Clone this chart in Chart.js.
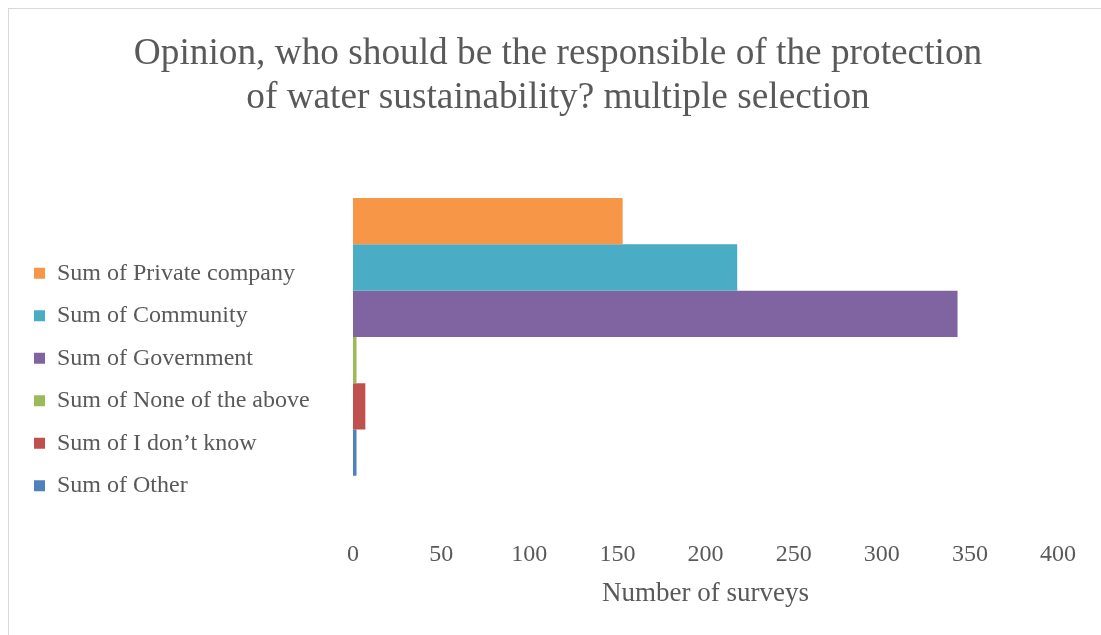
<!DOCTYPE html>
<html>
<head>
<meta charset="utf-8">
<script src="https://cdn.jsdelivr.net/npm/chart.js@4/dist/chart.umd.min.js"></script>
<style>
  html, body { margin: 0; padding: 0; background: #ffffff; overflow: hidden; }
  #frame {
    position: absolute; left: 8px; top: 8px;
    width: 1100px; height: 640px;
    border-left: 1px solid #d9d9d9; border-top: 1px solid #d9d9d9;
    background: #ffffff;
  }
  #chart { display: block; }
</style>
</head>
<body>
<div id="frame"><canvas id="chart" width="1100" height="627"></canvas></div>
<script>
// Survey answers: who should be responsible for protecting water sustainability
const categories = ['Total'];
const seriesNames = [
  'Sum of Private company',
  'Sum of Community',
  'Sum of Government',
  'Sum of None of the above',
  'Sum of I don\u2019t know',
  'Sum of Other'
];
const privateCompany = [153];
const community = [218];
const government = [343];
const noneOfTheAbove = [2];
const dontKnow = [7];
const other = [2];
const seriesColors = ['#F79646', '#4BACC6', '#8064A2', '#9BBB59', '#C0504D', '#4F81BD'];
const xTicks = [0, 50, 100, 150, 200, 250, 300, 350, 400];

const seriesValues = [privateCompany, community, government, noneOfTheAbove, dontKnow, other];
const textColor = '#595959';
const serif = '"Liberation Serif", "Times New Roman", serif';
const LEGEND_WIDTH = 337.5;   // legend column reserves this much room left of the bars
const LEGEND_DROP = 3;        // nudge the legend list slightly below the plot's bottom alignment

// Fixed-width left legend so the plot starts further right, list nudged down a little
const legendLayoutPlugin = {
  id: 'legendLayout',
  beforeLayout(chart) {
    const legend = chart.legend;
    if (legend && !legend.__fixedWidth) {
      const fit = legend.fit;
      legend.fit = function () { fit.call(this); this.width = LEGEND_WIDTH; };
      legend.__fixedWidth = true;
    }
  },
  afterLayout(chart) {
    const legend = chart.legend;
    if (legend) {
      legend.top += LEGEND_DROP;
      legend.bottom += LEGEND_DROP;
    }
  }
};

new Chart(document.getElementById('chart'), {
  type: 'bar',
  data: {
    labels: categories,
    datasets: seriesNames.map((name, i) => ({
      label: name,
      data: seriesValues[i],
      backgroundColor: seriesColors[i],
      borderWidth: 0,
      barPercentage: 1.0,
      categoryPercentage: 0.787
    }))
  },
  plugins: [legendLayoutPlugin],
  options: {
    indexAxis: 'y',
    responsive: false,
    animation: false,
    layout: { padding: { top: 23, left: 6.5, right: 8.5, bottom: 26 } },
    plugins: {
      title: {
        display: true,
        text: ['Opinion, who should be the responsible of the protection',
               'of water sustainability? multiple selection'],
        color: textColor,
        font: { family: serif, size: 37.3, weight: 'normal', lineHeight: 1.18 },
        padding: { top: 0, bottom: 40.5 }
      },
      legend: {
        display: true,
        position: 'left',
        align: 'end',
        fullSize: false,
        labels: {
          color: textColor,
          font: { family: serif, size: 24 },
          boxWidth: 11,
          boxHeight: 11,
          padding: 18.5
        }
      },
      tooltip: { enabled: false }
    },
    scales: {
      x: {
        min: 0,
        max: 400,
        afterBuildTicks: (scale) => { scale.ticks = xTicks.map(v => ({ value: v })); },
        afterFit: (scale) => { scale.paddingRight = 51; },
        grid: { display: false, drawTicks: false },
        border: { display: false },
        ticks: {
          color: textColor,
          font: { family: serif, size: 24 },
          padding: 27
        },
        title: {
          display: true,
          text: 'Number of surveys',
          color: textColor,
          font: { family: serif, size: 27 },
          padding: { top: -18.5, bottom: 0 }
        }
      },
      y: {
        display: false
      }
    }
  }
});
</script>
</body>
</html>
